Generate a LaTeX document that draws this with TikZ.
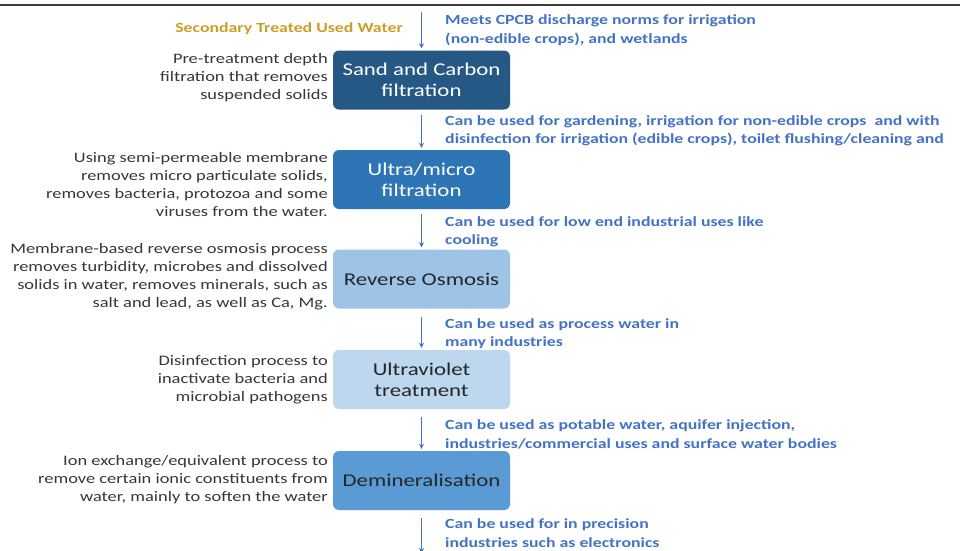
\documentclass[tikz,border=0pt]{standalone}
\usepackage{fontspec}
\setmainfont{Carlito}[FakeStretch=1.27]
\usetikzlibrary{arrows.meta}
\definecolor{boxA}{RGB}{38,88,134}
\definecolor{boxB}{RGB}{46,117,182}
\definecolor{boxC}{RGB}{157,195,230}
\definecolor{boxD}{RGB}{189,215,238}
\definecolor{boxE}{RGB}{91,155,213}
\definecolor{usetxt}{RGB}{68,114,196}
\definecolor{srctxt}{RGB}{204,158,36}
\definecolor{desctxt}{RGB}{55,55,55}
\definecolor{rulecol}{RGB}{60,60,60}
\tikzset{
  stage/.style={rounded corners=6pt, minimum width=177pt, minimum height=59pt, align=center, inner sep=0pt,
    font=\fontsize{18}{21}\selectfont},
  desc/.style={anchor=east, align=right, text=desctxt, inner sep=0pt, font=\fontsize{14.5}{18}\selectfont},
  usage/.style={anchor=west, align=left, text=usetxt, inner sep=0pt, font=\bfseries\fontsize{14}{18.5}\selectfont},
  flow/.style={draw=usetxt, line width=1.6pt, -{Stealth[length=5pt,width=5pt]}}
}
\begin{document}
\begin{tikzpicture}[x=1pt,y=-1pt]
\useasboundingbox (0,0) rectangle (960,550);
\fill[white] (0,0) rectangle (960,550);
\draw[rulecol, line width=1.5pt] (0,5) -- (960,5);

\node[stage, fill=boxA, text=white] (b1) at (421.5,80) {Sand and Carbon\\filtration};
\node[stage, fill=boxB, text=white] (b2) at (421.5,179.5) {Ultra/micro\\filtration};
\node[stage, fill=boxC, text=black!85] (b3) at (421.5,279) {Reverse Osmosis};
\node[stage, fill=boxD, text=black!85] (b4) at (421.5,379.5) {Ultraviolet\\treatment};
\node[stage, fill=boxE, text=black!85] (b5) at (421.5,480.5) {Demineralisation};

\coordinate (top) at (421.5,12);
\coordinate (bot) at (421.5,553);

\node[anchor=east, inner sep=0pt, text=srctxt, font=\bfseries\fontsize{14}{17}\selectfont] (src) at (403,29) {Secondary Treated Used Water};

\draw[flow] (top) -- ([yshift=2pt]b1.north);
\draw[flow, shorten <=5pt, shorten >=2pt] (b1.south) -- (b2.north);
\draw[flow, shorten <=5pt, shorten >=2pt] (b2.south) -- (b3.north);
\draw[flow, shorten <=8pt, shorten >=2pt] (b3.south) -- (b4.north);
\draw[flow, shorten <=8pt, shorten >=2pt] (b4.south) -- (b5.north);
\draw[flow, shorten <=8pt] (b5.south) -- (bot);

\node[usage] (u0) at (445,30) {Meets CPCB discharge norms for irrigation\\(non-edible crops), and wetlands};
\node[usage] (u1) at (445,131) {Can be used for gardening, irrigation for non-edible crops\ \ and with\\disinfection for irrigation (edible crops), toilet flushing/cleaning and};
\node[usage] (u2) at (445,232) {Can be used for low end industrial uses like\\cooling};
\node[usage] (u3) at (445,333.5) {Can be used as process water in\\many industries};
\node[usage] (u4) at (445,434.5) {Can be used as potable water, aquifer injection,\\industries/commercial uses and surface water bodies};
\node[usage] (u5) at (445,533) {Can be used for in precision\\industries such as electronics};

\node[desc] (d1) at (328,78) {Pre-treatment depth\\filtration that removes\\suspended solids};
\node[desc] (d2) at (328,185) {Using semi-permeable membrane\\removes micro particulate solids,\\removes bacteria, protozoa and some\\viruses from the water.};
\node[desc] (d3) at (328,277) {Membrane-based reverse osmosis process\\removes turbidity, microbes and dissolved\\solids in water, removes minerals, such as\\salt and lead, as well as Ca, Mg.};
\node[desc] (d4) at (328,380) {Disinfection process to\\inactivate bacteria and\\microbial pathogens};
\node[desc] (d5) at (328,480) {Ion exchange/equivalent process to\\remove certain ionic constituents from\\water, mainly to soften the water};
\end{tikzpicture}
\end{document}
